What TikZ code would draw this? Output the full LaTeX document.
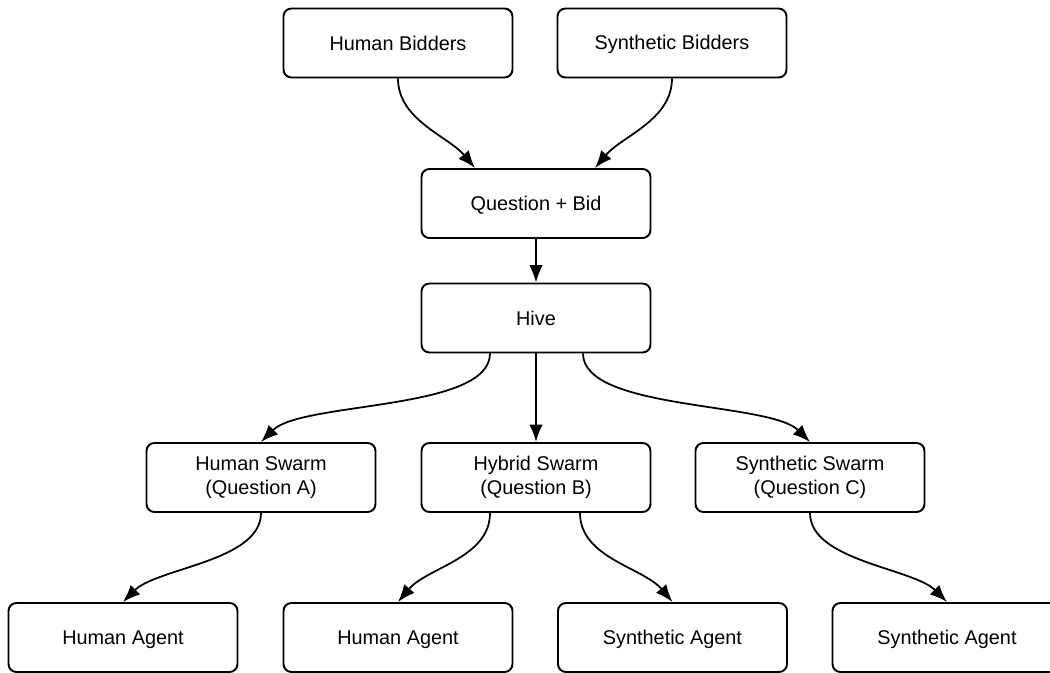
\documentclass[tikz,border=0pt]{standalone}
\usepackage{fontspec}
\setmainfont{Liberation Sans}
\usetikzlibrary{arrows.meta}
\newcommand\boxstrut{\rule[-1pt]{0pt}{11pt}}
\tikzstyle{every edge} = [draw,line width=1pt,-{Latex[length=3.5mm,width=2.7mm]}]
\tikzstyle{box} = [draw,line width=1.1pt,rounded corners=1.6mm,minimum width=4.58cm,minimum height=1.38cm,align=center,inner sep=0pt,font=\fontsize{11.3}{13.7}\selectfont,execute at begin node=\boxstrut,execute at end node=\boxstrut]
\tikzstyle{drop} = [out=270,in=#1,looseness=0.9]

\begin{document}
\begin{tikzpicture}

\useasboundingbox (0,0) rectangle (21,-13.46);
\clip (0,0.1) rectangle (21,-13.6);

\node[box] (b1) at (7.96,-0.86) {Human Bidders};
\node[box] (b2) at (13.44,-0.86) {Synthetic Bidders};
\node[box] (q) at (10.72,-4.07) {Question + Bid};
\node[box] (h) at (10.72,-6.36) {Hive};
\node[box] (s1) at (5.22,-9.55) {Human Swarm\\(Question A)};
\node[box] (s2) at (10.72,-9.55) {Hybrid Swarm\\(Question B)};
\node[box] (s3) at (16.2,-9.55) {Synthetic Swarm\\(Question C)};
\node[box] (a1) at (2.46,-12.75) {Human Agent};
\node[box] (a2) at (7.96,-12.75) {Human Agent};
\node[box] (a3) at (13.45,-12.75) {Synthetic Agent};
\node[box] (a4) at (18.94,-12.75) {Synthetic Agent};

\draw (b1.south) edge[drop=130] ([xshift=-1.22cm]q.north);
\draw (b2.south) edge[drop=50] ([xshift=1.18cm]q.north);
\draw (q) edge (h);
\draw ([xshift=-0.92cm]h.south) edge[drop=45,looseness=0.6] (s1.north);
\draw (h) edge (s2);
\draw ([xshift=0.94cm]h.south) edge[drop=135,looseness=0.6] (s3.north);
\draw (s1.south) edge[drop=45,looseness=0.75] (a1.north);
\draw ([xshift=-0.92cm]s2.south) edge[drop=50] (a2.north);
\draw ([xshift=0.88cm]s2.south) edge[drop=130] (a3.north);
\draw (s3.south) edge[drop=135,looseness=0.75] (a4.north);

\end{tikzpicture}
\end{document}
